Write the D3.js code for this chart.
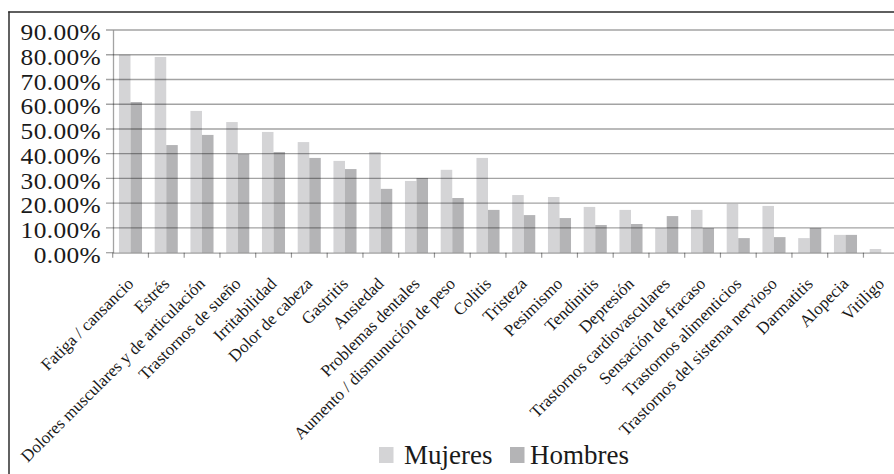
<!DOCTYPE html>
<html><head><meta charset="utf-8">
<script src="https://cdn.jsdelivr.net/npm/d3@7"></script>
<style>
html,body{margin:0;padding:0;background:#fff;}
svg{display:block;}
text{font-family:"Liberation Serif","Times New Roman","DejaVu Serif",serif;fill:#1a1a1a;}
</style></head>
<body>
<svg id="c" width="894" height="474"></svg>
<script>
const categories = ["Fatiga / cansancio","Estrés","Dolores musculares y de articulación","Trastornos de sueño","Irritabilidad","Dolor de cabeza","Gastritis","Ansiedad","Problemas dentales","Aumento / dismunución de peso","Colitis","Tristeza","Pesimismo","Tendinitis","Depresión","Trastornos cardiovasculares","Sensación de fracaso","Trastornos alimenticios","Trastornos del sistema nervioso","Darmatitis","Alopecia","Vitiligo"];
const mujeres = [0.80,0.791,0.573,0.528,0.488,0.447,0.371,0.407,0.290,0.335,0.383,0.233,0.225,0.185,0.173,0.100,0.173,0.197,0.189,0.059,0.072,0.015];
const hombres = [0.609,0.435,0.476,0.399,0.407,0.383,0.338,0.258,0.302,0.221,0.173,0.152,0.140,0.112,0.116,0.148,0.100,0.059,0.063,0.100,0.072,0.0];
const seriesNames = ["Mujeres","Hombres"];
const yTicks = [0,0.1,0.2,0.3,0.4,0.5,0.6,0.7,0.8,0.9];
const colors = {"Mujeres":"#d4d4d6","Hombres":"#b4b4b6"};

const svg = d3.select("#c");
const x0 = d3.scaleBand().domain(categories).range([112.7, 899.2]).padding(0);
const bw = x0.bandwidth();
const x1 = d3.scaleBand().domain(seriesNames).range([bw*0.175, bw*0.82]).padding(0);
const y = d3.scaleLinear().domain([0,0.9]).range([252.7, 30]);

// frame
svg.append("line").attr("x1",9).attr("x2",9).attr("y1",11.5).attr("y2",474).attr("stroke","#3a3a3a").attr("stroke-width",1.6);
svg.append("line").attr("x1",8.2).attr("x2",894).attr("y1",12).attr("y2",12).attr("stroke","#2a2a2a").attr("stroke-width",1.4);

// bars
const data = categories.map((c,i)=>({c, vals:[{s:"Mujeres",v:mujeres[i]},{s:"Hombres",v:hombres[i]}]}));
const g = svg.append("g");
g.selectAll("g").data(data).join("g")
  .attr("transform", d=>`translate(${x0(d.c)},0)`)
  .selectAll("rect").data(d=>d.vals).join("rect")
  .attr("x", d=>x1(d.s)).attr("width", x1.bandwidth())
  .attr("y", d=>y(d.v)).attr("height", d=>y(0)-y(d.v))
  .attr("fill", d=>colors[d.s]);

// gridlines (on top)
svg.append("g").selectAll("line").data(yTicks.filter(t=>t>0)).join("line")
  .attr("x1",106).attr("x2",894).attr("y1",d=>y(d)).attr("y2",d=>y(d))
  .attr("stroke","rgba(0,0,0,0.36)").attr("stroke-width",1.3);

const yAxis = d3.axisLeft(y).tickValues(yTicks).tickSize(0).tickFormat(d3.format(".2%"));
const ya = svg.append("g").attr("transform","translate(113,0)").call(yAxis);
ya.attr("font-family",null);
ya.select(".domain").attr("stroke","rgba(0,0,0,0.36)").attr("stroke-width",1.3);
ya.selectAll(".tick text").attr("x",-12/1.13).attr("dy","0.38em").attr("font-size",22.5)
  .style("letter-spacing","0.3px").attr("fill","#1a1a1a").attr("transform","translate(0,1) scale(1.13,1)");
svg.append("line").attr("x1",106).attr("x2",113).attr("y1",y(0)).attr("y2",y(0)).attr("stroke","rgba(0,0,0,0.36)").attr("stroke-width",1.3);

// x axis
const xa = svg.append("g").attr("transform",`translate(0,${y(0)})`)
  .call(d3.axisBottom(x0).tickSize(0).tickFormat(""));
xa.select(".domain").attr("stroke","rgba(0,0,0,0.36)").attr("stroke-width",1.3);
const bounds = categories.map(c=>x0(c));
svg.append("g").selectAll("line").data(bounds).join("line")
  .attr("x1",d=>d).attr("x2",d=>d).attr("y1",y(0)).attr("y2",y(0)+5)
  .attr("stroke","rgba(0,0,0,0.4)").attr("stroke-width",1.2);

svg.append("g").selectAll("text").data(categories).join("text")
  .attr("transform", d=>`translate(${x0(d)+bw/2+4},${y(0)+32}) rotate(-45)`)
  .attr("text-anchor","end").attr("font-size",17).text(d=>d);

// legend
const leg = svg.append("g");
const legItems = [{s:"Mujeres",x:379,tx:404},{s:"Hombres",x:510,tx:530}];
leg.selectAll("rect").data(legItems).join("rect")
  .attr("x",d=>d.x).attr("y",447).attr("width",14.5).attr("height",16)
  .attr("fill",d=>colors[d.s]);
leg.selectAll("text").data(legItems).join("text")
  .attr("x",d=>d.tx).attr("y",464).attr("font-size",27).text(d=>d.s);
</script>
</body></html>
